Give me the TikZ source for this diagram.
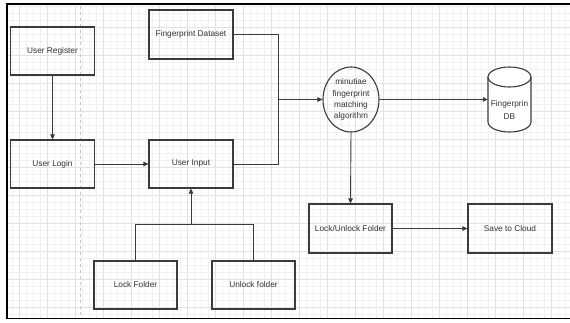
\documentclass[tikz,border=0pt]{standalone}
\usepackage{fontspec}
\setmainfont{Liberation Sans}
\usetikzlibrary{arrows.meta,shapes.geometric}
\definecolor{lineC}{HTML}{3A3A3A}
\definecolor{textC}{HTML}{333333}
\definecolor{minorC}{HTML}{F1F1F1}
\definecolor{majorC}{HTML}{E2E2E2}
\tikzset{
  box/.style={draw=lineC, line width=1.1pt, rectangle, minimum width=84pt, minimum height=48pt, inner sep=0pt, text=textC, font=\fontsize{8.3}{10}\selectfont},
  oval/.style={draw=lineC, line width=1.1pt, ellipse, minimum width=56pt, minimum height=65pt, inner sep=0pt, text=textC, align=center, font=\fontsize{8.3}{11.2}\selectfont},
  conn/.style={draw=lineC, line width=0.9pt},
  arr/.style={conn, -{Triangle[length=5pt,width=4.5pt]}},
  txt/.style={text=textC, align=center, font=\fontsize{8.3}{13}\selectfont, inner sep=0pt}
}
\begin{document}
\begin{tikzpicture}[x=1pt,y=1pt]
\useasboundingbox (0,0) rectangle (570,-322);
\fill[white] (0,0) rectangle (570,-322);
% grid
\begin{scope}
\clip (7,-4) rectangle (570,-318);
\foreach \k in {0,...,81} { \draw[minorC, line width=0.5pt] ({5+7*\k},0) -- ({5+7*\k},-322); }
\foreach \k in {0,...,46} { \draw[minorC, line width=0.5pt] (0,{-6-7*\k}) -- (570,{-6-7*\k}); }
\foreach \k in {0,...,20} { \draw[majorC, line width=0.7pt] ({19+28*\k},0) -- ({19+28*\k},-322); }
\foreach \k in {0,...,12} { \draw[majorC, line width=0.7pt] (0,{1-28*\k}) -- (570,{1-28*\k}); }
\draw[gray!45, dashed, line width=0.6pt] (80,0) -- (80,-322);
\end{scope}
% frame
\draw[black, line width=1.4pt] (570,-4) -- (7,-4) -- (7,-318.5) -- (570,-318.5);
% nodes
\node[box] (reg) at (52.5,-51) {User Register};
\node[box, minimum height=49pt] (ds) at (191,-34.5) {Fingerprint Dataset};
\node[box] (login) at (52.5,-164) {User Login};
\node[box] (input) at (191,-164) {User Input};
\node[oval] (alg) at (351,-99.5) {minutiae\\fingerprint\\matching\\algorithm};
\node[minimum width=43pt, minimum height=65pt, inner sep=0pt] (db) at (509.5,-99.5) {};
\draw[lineC, line width=1.1pt, fill=white] (488,-77) -- (488,-122) arc[start angle=180,end angle=360,x radius=21.5,y radius=10] -- (531,-77) arc[start angle=0,end angle=180,x radius=21.5,y radius=10] -- cycle;
\draw[lineC, line width=1.1pt] (488,-77) arc[start angle=180,end angle=360,x radius=21.5,y radius=10];
\node[txt] (dbt) at (509.5,-110) {Fingerprin\\DB};
\node[box, minimum width=83pt, minimum height=49pt] (lu) at (350.5,-228.5) {Lock/Unlock Folder};
\node[box, minimum height=49pt] (cloud) at (510,-228.5) {Save to Cloud};
\node[box, minimum width=83pt] (lock) at (135.5,-285) {Lock Folder};
\node[box, minimum width=83pt] (unlock) at (253.5,-285) {Unlock folder};
\coordinate (j1) at (278,-99.5);
\coordinate (j2) at (191,-224);
% connectors
\draw[arr] (reg) -- (login);
\draw[arr] (login) -- (input);
\draw[conn] (ds.east) -| (j1);
\draw[conn] (input.east) -| (j1);
\draw[arr] (j1) -- (alg.west);
\draw[arr] (alg.east) -- (db.west);
\draw[arr] (alg.south) -- (lu.north);
\draw[arr] (lu) -- (cloud);
\draw[conn] (lock.north) |- (j2);
\draw[conn] (unlock.north) |- (j2);
\draw[arr] (j2) -- (input.south);
\end{tikzpicture}
\end{document}
